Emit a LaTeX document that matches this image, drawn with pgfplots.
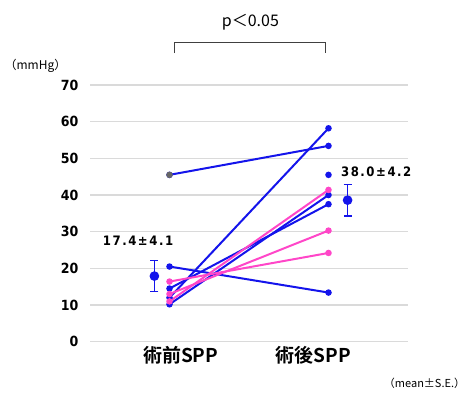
\documentclass[border=0pt]{standalone}
\usepackage{fontspec}
\setmainfont{Liberation Sans}
\newfontfamily\cjk{Noto Sans CJK JP}[BoldFont={Noto Sans CJK JP Bold}]
\newfontfamily\numfont{DejaVu Sans Condensed}[BoldFont={DejaVu Sans Condensed Bold}, LetterSpace=12]
\newfontfamily\tickfont{DejaVu Sans Condensed}[BoldFont={DejaVu Sans Condensed Bold}]
\usepackage{pgfplots}
\pgfplotsset{compat=1.18}
\definecolor{lblue}{RGB}{20,20,235}
\definecolor{lpink}{RGB}{255,70,200}
\definecolor{gridc}{RGB}{218,218,218}
\begin{document}
\begin{tikzpicture}
\path[use as bounding box] (-90pt,-50.3pt) rectangle (380pt,341.7pt);
\begin{axis}[
  at={(0,0)}, anchor=south west,
  scale only axis, width=318pt, height=256.7pt,
  xmin=-0.5, xmax=1.5, ymin=0, ymax=70,
  axis line style={draw=none},
  ytick={0,10,...,70},
  ymajorgrids, grid style={gridc, line width=1.2pt},
  major tick length=0pt,
  xtick={0.07,0.906},
  xticklabels={術前SPP,術後SPP},
  xticklabel style={font=\cjk\bfseries\fontsize{19}{19}\selectfont, yshift=-1pt},
  yticklabel style={font=\tickfont\bfseries\fontsize{14}{14}\selectfont, xshift=-8pt},
  /pgf/number format/assume math mode=true,
  clip=false,
  every axis plot/.append style={line width=2pt},
]
% paired lines (blue)
\addplot[lblue, mark=*, mark size=2.2pt] coordinates {(0,45.5) (1,53.4)};
\addplot[lblue, mark=*, mark size=2.2pt] coordinates {(0,20.5) (1,13.4)};
\addplot[lblue, mark=*, mark size=2.2pt] coordinates {(0,12.0) (1,58.2)};
\addplot[lblue, mark=*, mark size=2.2pt] coordinates {(0,10.2) (1,40.0)};
\addplot[lblue, mark=*, mark size=2.2pt] coordinates {(0,14.5) (1,37.5)};
% paired lines (pink)
\addplot[lpink, mark=*, mark size=2.2pt] coordinates {(0,16.4) (1,24.2)};
\addplot[lpink, mark=*, mark size=2.2pt] coordinates {(0,13.0) (1,30.3)};
\addplot[lpink, mark=*, mark size=2.2pt] coordinates {(0,11.0) (1,41.4)};
% stray points
\addplot[only marks, mark=*, mark size=2.2pt, gray!80!black] coordinates {(0,45.5)};
\addplot[only marks, mark=*, mark size=2.2pt, lblue] coordinates {(1,45.5)};
% means with SE
\addplot[only marks, lblue, mark=*, mark size=4.2pt, line width=1.2pt,
  error bars/.cd, y dir=both, y explicit,
  error bar style={line width=1.3pt, lblue}, error mark options={rotate=90, mark size=4pt, line width=1.3pt, lblue}]
  coordinates {(-0.095,17.9) +- (0,4.3) (1.12,38.6) +- (0,4.3)};
% annotations
\node[font=\numfont\bfseries\fontsize{13}{13}\selectfont] at (axis cs:-0.198,27.5) {17.4±4.1};
\node[font=\numfont\bfseries\fontsize{13}{13}\selectfont] at (axis cs:1.30,46.3) {38.0±4.2};
\draw[line width=1pt, black!75] (axis cs:0.031,78.7) |- (axis cs:0.981,81.7) -- (axis cs:0.981,78.7);
\node[font=\cjk\fontsize{16}{16}\selectfont] at (axis cs:0.509,87.2) {p＜0.05};
\node[font=\cjk\fontsize{12}{12}\selectfont] at (axis cs:-0.843,75.2) {（mmHg）};
\node[font=\cjk\fontsize{11}{11}\selectfont] at (axis cs:1.604,-11.3) {（mean±S.E.）};
\end{axis}
\end{tikzpicture}
\end{document}
